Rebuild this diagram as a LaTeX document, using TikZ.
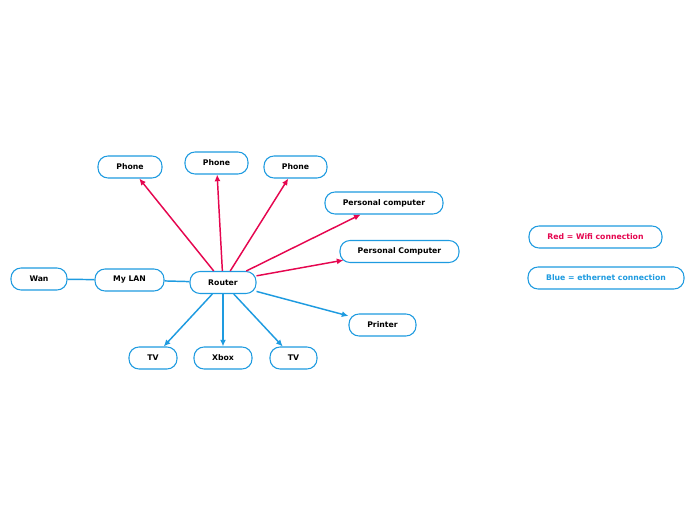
\documentclass[tikz,border=0pt]{standalone}
\usepackage{fontspec}
\setmainfont{DejaVu Sans}
\usetikzlibrary{arrows.meta}
\definecolor{wifired}{HTML}{E5064F}
\definecolor{ethblue}{HTML}{1E9BE0}
\begin{document}
\begin{tikzpicture}[x=0.75pt,y=-0.75pt,
  box/.style={draw=ethblue,line width=0.8pt,rounded corners=7.5pt,minimum height=16.5pt,inner sep=0pt,
    font=\fontsize{5.8}{7}\selectfont\bfseries,text=black,fill=white},
  wifi/.style={draw=wifired,line width=1.1pt,-{Latex[length=5pt,width=4.5pt]}},
  eth/.style={draw=ethblue,line width=1.1pt,-{Latex[length=5pt,width=4.5pt]}},
  plain/.style={draw=ethblue,line width=1.1pt}]
\useasboundingbox (0,0) rectangle (696,520);
\node[box,minimum width=48pt] (phone1) at (130,167) {Phone};
\node[box,minimum width=47.25pt] (phone2) at (216.5,163) {Phone};
\node[box,minimum width=47.25pt] (phone3) at (295.5,167) {Phone};
\node[box,minimum width=88.5pt] (pc1) at (384,203) {Personal computer};
\node[box,minimum width=89.25pt] (pc2) at (399.5,251.5) {Personal Computer};
\node[box,minimum width=49.5pt] (router) at (223,282.5) {Router};
\node[box,minimum width=51.75pt] (lan) at (129.5,280) {My LAN};
\node[box,minimum width=42pt] (wan) at (39,279) {Wan};
\node[box,minimum width=50.25pt] (printer) at (382.5,325) {Printer};
\node[box,minimum width=36pt] (tv1) at (153,358) {TV};
\node[box,minimum width=43.5pt] (xbox) at (223,358) {Xbox};
\node[box,minimum width=35.25pt] (tv2) at (293.5,358) {TV};
\node[box,minimum width=99.75pt,text=wifired] (legred) at (595.5,237) {Red = Wifi connection};
\node[box,minimum width=117pt,text=ethblue] (legblue) at (606,278) {Blue = ethernet connection};
\draw[plain] (router) -- (lan);
\draw[plain] (lan) -- (wan);
\draw[wifi] (router) -- (phone1);
\draw[wifi] (router) -- (phone2);
\draw[wifi] (router) -- (phone3);
\draw[wifi] (router) -- (pc1);
\coordinate (rpc2) at ([yshift=5pt]router.east);
\coordinate (pc2in) at ([xshift=3pt,yshift=-6.5pt]pc2.west);
\draw[wifi] (rpc2) -- (pc2in);
\draw[eth] (router) -- (printer);
\draw[eth] (router) -- (tv1);
\draw[eth] (router) -- (xbox);
\draw[eth] (router) -- (tv2);
\end{tikzpicture}
\end{document}
